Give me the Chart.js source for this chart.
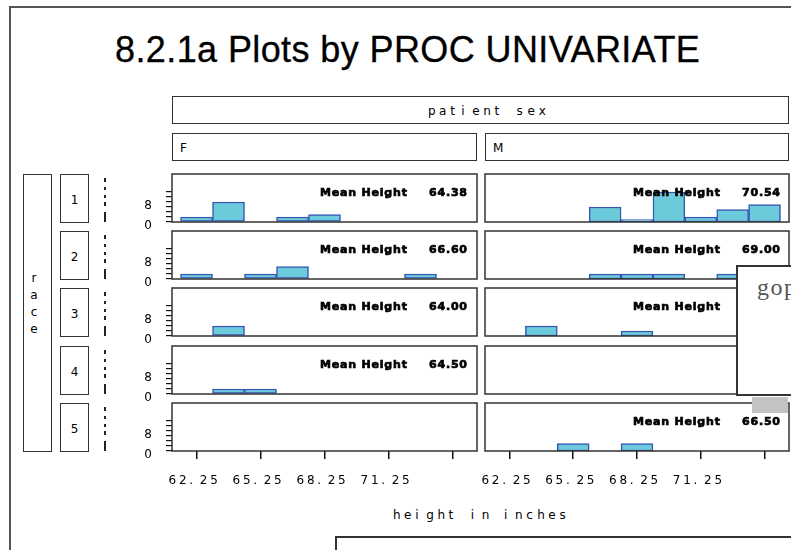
<!DOCTYPE html>
<html>
<head>
<meta charset="utf-8">
<script src="https://cdn.jsdelivr.net/npm/chart.js@4.4.0/dist/chart.umd.min.js"></script>
<style>
  body { margin: 0; width: 791px; height: 550px; overflow: hidden; background: #fff; position: relative; font-family: "DejaVu Sans", sans-serif; color: #000; }
  .abs { position: absolute; }
  .box { position: absolute; box-sizing: border-box; border: 1.5px solid #333; background: transparent; }
  .cells { position: absolute; white-space: nowrap; line-height: 1; transform: translateY(-50%); }
  .cells span { display: inline-block; }
  canvas { position: absolute; }
</style>
</head>
<body>
<script>
const title = '8.2.1a Plots by PROC UNIVARIATE';
const colVar = 'patient sex';
const rowVar = 'race';
const xTitle = 'height in inches';
const sexes = ['F', 'M'];
const races = ['1', '2', '3', '4', '5'];

// histogram bins (midpoints) and axis ticks
const binCenters = [62.25, 63.75, 65.25, 66.75, 68.25, 69.75, 71.25, 72.75, 74.25];
const xTicks = [62.25, 65.25, 68.25, 71.25, 74.25];
const xTickLabels = ['62.25', '65.25', '68.25', '71.25', ''];
const yTicks = [0, 2, 4, 6, 8, 10, 12];
const yTickLabels = ['0', '', '', '', '8', '', ''];

// counts per bin, female panels (race 1..5)
const countsF1 = [2, 8, 0, 2, 3, 0, 0, 0, 0];
const countsF2 = [2, 0, 2, 5, 0, 0, 0, 2, 0];
const countsF3 = [0, 4, 0, 0, 0, 0, 0, 0, 0];
const countsF4 = [0, 2, 2, 0, 0, 0, 0, 0, 0];
const countsF5 = [0, 0, 0, 0, 0, 0, 0, 0, 0];
// counts per bin, male panels (race 1..5)
const countsM1 = [0, 0, 0, 6, 1, 12, 2, 5, 7];
const countsM2 = [0, 0, 0, 2, 2, 2, 0, 2, 0];
const countsM3 = [0, 4, 0, 0, 2, 0, 0, 0, 0];
const countsM4 = [0, 0, 0, 0, 0, 0, 0, 0, 0];
const countsM5 = [0, 0, 3, 0, 3, 0, 0, 0, 0];

const meansF = ['64.38', '66.60', '64.00', '64.50', ''];
const meansM = ['70.54', '69.00', '65.25', '', '66.50'];

const counts = [
  [countsF1, countsF2, countsF3, countsF4, countsF5],
  [countsM1, countsM2, countsM3, countsM4, countsM5]
];
const means = [meansF, meansM];

// layout (pixels)
const colLeft = [172, 485];
const colWidth = [305, 304];
const rowTop = [174, 231, 288, 346, 403];
const rowHeight = 48;

function el(cls, css, text) {
  const d = document.createElement('div');
  d.className = cls;
  d.style.cssText = css;
  if (text) d.textContent = text;
  document.body.appendChild(d);
  return d;
}

// SAS-like fixed cell text: each glyph left-aligned in a cell
function cellText(str, x, y, cell, font) {
  const d = el('cells', `left:${x}px;top:${y}px;font:${font};`);
  for (const ch of str) {
    const s = document.createElement('span');
    s.style.width = cell + 'px';
    s.textContent = ch === ' ' ? '\u00a0' : ch;
    d.appendChild(s);
  }
}

function drawCells(ctx, str, x, y, cell) {
  let i = 0;
  for (const ch of str) {
    ctx.fillText(ch, x + i * cell, y);
    i++;
  }
}

// frame and title
el('abs', 'left:9px;top:6px;width:900px;height:700px;border-left:2px solid #555;border-top:2px solid #555;');
el('abs', `left:115px;top:32px;font:36px "Liberation Sans";line-height:36px;letter-spacing:0.4px;white-space:nowrap;-webkit-text-stroke:0.3px #000;`, title);

// column strips
el('box', 'left:172px;top:96px;width:617px;height:28px;');
cellText(colVar, 428, 111, 11.07, '12px "DejaVu Sans"');
sexes.forEach((s, c) => {
  el('box', `left:${colLeft[c]}px;top:133px;width:${colWidth[c]}px;height:28px;`);
  cellText(s, colLeft[c] + 8, 147.5, 11, '12px "DejaVu Sans"');
});

// row strips
el('box', 'left:23px;top:174px;width:29px;height:278px;');
[...rowVar].forEach((ch, i) => {
  el('abs', `left:23px;width:22px;text-align:center;top:${272 + i * 17}px;font:12px "DejaVu Sans";line-height:12px;`, ch);
});
races.forEach((r, i) => {
  el('box', `left:60px;top:${rowTop[i]}px;width:29px;height:49px;`);
  el('abs', `left:60px;width:29px;text-align:center;top:${rowTop[i] + 19}px;font:12px "DejaVu Sans";line-height:14px;`, r);
  el('abs', `left:104px;top:${rowTop[i] + 4}px;width:2px;height:44px;background:linear-gradient(to bottom,#222 0 4px,transparent 4px 9px,#222 9px 12px,transparent 12px 17px,#222 17px 20px,transparent 20px 24px,#222 24px 28px,transparent 28px 34px,#222 34px 44px);`);
});

const panelPlugin = {
  id: 'panel',
  afterDraw(chart, args, opts) {
    const {ctx, chartArea: a} = chart;
    ctx.save();
    ctx.strokeStyle = '#333';
    ctx.lineWidth = 1.5;
    ctx.strokeRect(a.left, a.top, a.right - a.left, a.bottom - a.top);
    ctx.fillStyle = '#000';
    ctx.strokeStyle = '#000';
    ctx.textBaseline = 'middle';
    ctx.textAlign = 'left';
    if (opts.mean) {
      ctx.font = 'bold 11px "DejaVu Sans"';
      ctx.letterSpacing = '0.8px';
      ctx.lineWidth = 0.7;
      [['Mean Height', 148], [opts.mean, 257]].forEach(([t, dx]) => {
        ctx.fillText(t, a.left + dx, a.top + 19.5);
        ctx.strokeText(t, a.left + dx, a.top + 19.5);
      });
      ctx.letterSpacing = '0px';
    }
    if (opts.bottom) {
      const xs = chart.scales.x;
      ctx.font = '12px "DejaVu Sans"';
      xTicks.forEach((v, i) => {
        drawCells(ctx, xTickLabels[i], xs.getPixelForValue(v) - 28, a.bottom + 30, 10.4);
      });
    }
    ctx.restore();
  }
};

function makePanel(c, r) {
  const isBottom = r === races.length - 1;
  const showY = c === 0;
  const padL = 50, padT = 26, padR = 10, padB = isBottom ? 50 : 26;
  const w = padL + colWidth[c] + padR;
  const h = padT + rowHeight + padB;
  const canvas = document.createElement('canvas');
  canvas.width = w;
  canvas.height = h;
  canvas.style.cssText = `left:${colLeft[c] - padL}px;top:${rowTop[r] - padT}px;width:${w}px;height:${h}px;`;
  document.body.appendChild(canvas);

  const data = binCenters.map((x, i) => ({x: x, y: counts[c][r][i] ? counts[c][r][i] : null}));

  new Chart(canvas, {
    type: 'bar',
    data: {
      datasets: [{
        data: data,
        backgroundColor: '#6ccbdb',
        borderColor: '#3656b4',
        borderWidth: 1.5,
        borderSkipped: false,
        barPercentage: 1,
        categoryPercentage: 1
      }]
    },
    options: {
      responsive: false,
      animation: false,
      events: [],
      layout: { padding: { left: 0, top: padT, right: padR, bottom: isBottom ? 0 : padB } },
      plugins: {
        legend: { display: false },
        tooltip: { enabled: false },
        panel: { mean: means[c][r], bottom: isBottom }
      },
      scales: {
        x: {
          type: 'linear',
          min: 61.1,
          max: 75.4,
          offset: false,
          display: isBottom,
          afterBuildTicks: s => { s.ticks = xTicks.map(v => ({value: v})); },
          afterFit: s => { if (isBottom) s.height = padB; },
          grid: { drawOnChartArea: false, offset: false, tickLength: 8, color: '#111', lineWidth: 1.5 },
          border: { display: false },
          ticks: { display: false }
        },
        y: {
          min: 0,
          max: 19.2,
          afterBuildTicks: s => { s.ticks = yTicks.map(v => ({value: v})); },
          afterFit: s => { s.width = padL; },
          grid: { display: showY, drawOnChartArea: false, tickLength: 6, color: '#111', lineWidth: 1.2 },
          border: { display: false },
          ticks: {
            display: showY,
            autoSkip: false,
            padding: 14,
            labelOffset: 3.5,
            color: '#000',
            font: { family: 'DejaVu Sans', size: 12 },
            callback: (v, i) => yTickLabels[i]
          }
        }
      }
    },
    plugins: [panelPlugin]
  });
}

for (let c = 0; c < sexes.length; c++) {
  for (let r = 0; r < races.length; r++) makePanel(c, r);
}

// axis title
cellText(xTitle, 393, 515, 11.1, '12px "DejaVu Sans"');

// bottom box
el('abs', 'left:335px;top:536px;width:500px;height:40px;border-left:2px solid #333;border-top:2px solid #333;');

// overlapping window in the screenshot
el('abs', 'left:752px;top:397px;width:36px;height:16px;background:#c3c3c3;');
el('abs', 'left:736px;top:265px;width:90px;height:131px;box-sizing:border-box;border:2px solid #333;background:#fff;');
el('abs', 'left:757px;top:275px;font:24px "Liberation Serif";color:#555;line-height:24px;letter-spacing:1.5px;', 'gop');
</script>
</body>
</html>
